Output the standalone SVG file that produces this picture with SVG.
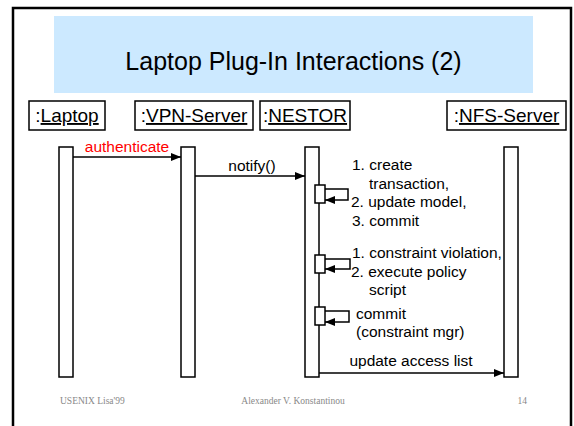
<svg xmlns="http://www.w3.org/2000/svg" width="574" height="426" viewBox="0 0 574 426">
  <defs>
    <marker id="arrow" viewBox="0 0 10 8" refX="10" refY="4" markerWidth="10" markerHeight="8" markerUnits="userSpaceOnUse" orient="auto">
      <path d="M0,0 L10,4 L0,8 Z" fill="#000"/>
    </marker>
    <style>
      .frame { fill: none; stroke: #000; stroke-width: 2.5; }
      .head { fill: #fff; stroke: #000; stroke-width: 1.5; }
      .bar { fill: #fff; stroke: #000; stroke-width: 1.5; }
      .msg { fill: none; stroke: #000; stroke-width: 1.5; marker-end: url(#arrow); }
      .hd { font-family: "Liberation Sans", Arial, sans-serif; font-size: 19px; fill: #000; text-anchor: middle; }
      .u { text-decoration: underline; }
      .lbl { font-family: "Liberation Sans", Arial, sans-serif; font-size: 15.5px; fill: #000; }
      .foot { font-family: "Liberation Serif", "Times New Roman", serif; font-size: 9.5px; fill: #888; }
    </style>
  </defs>

  <rect width="574" height="426" fill="#fff"/>
  <path class="frame" d="M13,426 V8 H571 V426"/>

  <!-- title banner -->
  <g id="title">
    <rect x="54" y="16" width="479" height="77" fill="#cce9ff"/>
    <text x="293.5" y="70" font-family="Liberation Sans, Arial, sans-serif" font-size="25" text-anchor="middle" fill="#000">Laptop Plug-In Interactions (2)</text>
  </g>

  <!-- participants -->
  <g id="laptop">
    <rect class="head" x="29" y="101" width="76" height="29"/>
    <text class="hd" x="67" y="122">:<tspan class="u">Laptop</tspan></text>
    <rect class="bar" x="59" y="147" width="14" height="230"/>
  </g>
  <g id="vpn-server">
    <rect class="head" x="135" y="101" width="118" height="29"/>
    <text class="hd" x="194" y="122">:<tspan class="u">VPN-Server</tspan></text>
    <rect class="bar" x="181" y="147" width="14" height="230"/>
  </g>
  <g id="nestor">
    <rect class="head" x="260" y="101" width="90" height="29"/>
    <text class="hd" x="305" y="122">:<tspan class="u">NESTOR</tspan></text>
    <rect class="bar" x="305" y="147" width="14" height="230"/>
    <rect class="bar" x="315" y="185" width="10" height="18"/>
    <rect class="bar" x="315" y="255" width="10" height="18"/>
    <rect class="bar" x="315" y="307" width="10" height="18"/>
  </g>
  <g id="nfs-server">
    <rect class="head" x="447" y="101" width="119" height="29"/>
    <text class="hd" x="506.5" y="122">:<tspan class="u">NFS-Server</tspan></text>
    <rect class="bar" x="504" y="147" width="14" height="230"/>
  </g>

  <!-- messages -->
  <g id="connectors">
    <line class="msg" x1="73" y1="157" x2="181" y2="157"/>
    <line class="msg" x1="195" y1="176" x2="305" y2="176"/>
    <path class="msg" d="M325,189 H348 V200 H325"/>
    <path class="msg" d="M325,259 H350 V269 H325"/>
    <path class="msg" d="M325,311 H349 V322 H325"/>
    <line class="msg" x1="319" y1="373" x2="504" y2="373"/>
  </g>

  <!-- message labels -->
  <g id="labels">
    <text class="lbl" x="127" y="151.5" text-anchor="middle" style="fill:#ff0000">authenticate</text>
    <text class="lbl" x="252" y="170.5" text-anchor="middle">notify()</text>
    <text class="lbl" x="352" y="170">1. create</text>
    <text class="lbl" x="369" y="188.5">transaction,</text>
    <text class="lbl" x="351" y="207">2. update model,</text>
    <text class="lbl" x="352" y="225.5">3. commit</text>
    <text class="lbl" x="352" y="258">1. constraint violation,</text>
    <text class="lbl" x="351" y="276.5">2. execute policy</text>
    <text class="lbl" x="369" y="295">script</text>
    <text class="lbl" x="356" y="319">commit</text>
    <text class="lbl" x="356" y="337">(constraint mgr)</text>
    <text class="lbl" x="411" y="366" text-anchor="middle">update access list</text>
  </g>

  <!-- footer -->
  <g id="footer">
    <text class="foot" x="60" y="404">USENIX Lisa'99</text>
    <text class="foot" x="293" y="404" text-anchor="middle">Alexander V. Konstantinou</text>
    <text class="foot" x="527" y="404" text-anchor="end">14</text>
  </g>
</svg>
